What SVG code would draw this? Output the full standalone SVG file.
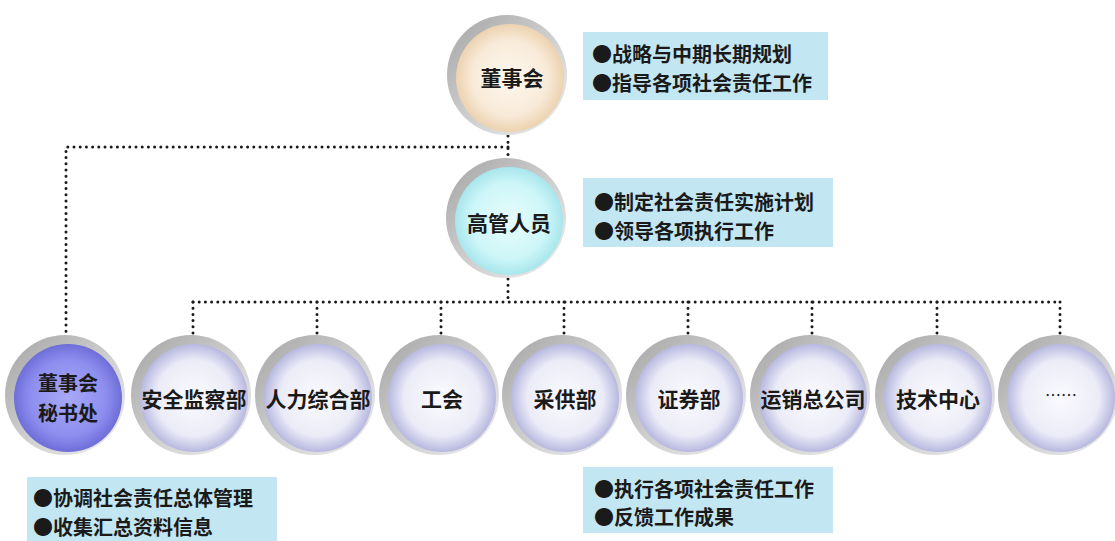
<svg xmlns="http://www.w3.org/2000/svg" width="1115" height="541" viewBox="0 0 1115 541">
<defs>
<linearGradient id="ring" x1="0" y1="0" x2="1" y2="1">
<stop offset="0" stop-color="#a4a4a4"/>
<stop offset="0.5" stop-color="#cdcdcd"/>
<stop offset="1" stop-color="#efefef"/>
</linearGradient>
<radialGradient id="gBoard" cx="0.5" cy="0.5" r="0.5">
<stop offset="0" stop-color="#fdf8f0"/>
<stop offset="0.7" stop-color="#f8ead8"/>
<stop offset="1" stop-color="#ecd2b0"/>
</radialGradient>
<radialGradient id="gExec" cx="0.5" cy="0.5" r="0.5">
<stop offset="0" stop-color="#e8fcfc"/>
<stop offset="0.7" stop-color="#cdf6f8"/>
<stop offset="1" stop-color="#a8e6ec"/>
</radialGradient>
<radialGradient id="gSec" cx="0.5" cy="0.5" r="0.5">
<stop offset="0" stop-color="#a8a8f6"/>
<stop offset="0.7" stop-color="#8e8ef0"/>
<stop offset="1" stop-color="#6e6ed8"/>
</radialGradient>
<radialGradient id="gDept" cx="0.5" cy="0.5" r="0.5">
<stop offset="0" stop-color="#fafafe"/>
<stop offset="0.7" stop-color="#ececf8"/>
<stop offset="1" stop-color="#b8b8e0"/>
</radialGradient>
</defs>
<style>
.ring{fill:url(#ring)}
.lbl{font-family:"Noto Sans CJK SC","Noto Sans",sans-serif;font-size:21px;font-weight:bold;fill:#1a1a1a;text-anchor:middle;dominant-baseline:central}
.box{fill:#c2e7f2}
.btxt{font-family:"Noto Sans CJK SC","Noto Sans",sans-serif;font-size:20px;font-weight:bold;fill:#1a1a1a}
.dot{fill:none;stroke:#1a1a1a;stroke-width:3;stroke-linecap:round;stroke-dasharray:0 6.2}
</style>
<g id="connectors">
<path class="dot" d="M508 136 V158"/>
<path class="dot" d="M508 147 H66 V335"/>
<path class="dot" d="M508 279 V302"/>
<path class="dot" d="M193 302 H1060"/>
<path class="dot" d="M193 302 V335"/>
<path class="dot" d="M317 302 V335"/>
<path class="dot" d="M441 302 V335"/>
<path class="dot" d="M564 302 V335"/>
<path class="dot" d="M688 302 V335"/>
<path class="dot" d="M812 302 V335"/>
<path class="dot" d="M937 302 V335"/>
<path class="dot" d="M1060 302 V335"/>
</g>
<g id="board">
<circle class="ring" cx="507" cy="75" r="60"/>
<circle cx="510" cy="78" r="54" fill="url(#gBoard)"/>
<text class="lbl" x="512" y="77">董事会</text>
</g>
<g id="board-note">
<rect class="box" x="583" y="32" width="245" height="68"/>
<text class="btxt" x="592" y="62">●战略与中期长期规划</text>
<text class="btxt" x="592" y="91">●指导各项社会责任工作</text>
</g>
<g id="exec">
<circle class="ring" cx="506" cy="218" r="60"/>
<circle cx="509" cy="221" r="54" fill="url(#gExec)"/>
<text class="lbl" x="509" y="222">高管人员</text>
</g>
<g id="exec-note">
<rect class="box" x="583" y="178" width="250" height="69"/>
<text class="btxt" x="594" y="210">●制定社会责任实施计划</text>
<text class="btxt" x="594" y="239">●领导各项执行工作</text>
</g>
<g id="secretary">
<circle class="ring" cx="65" cy="395" r="60"/>
<circle cx="68" cy="398" r="54" fill="url(#gSec)"/>
<text class="lbl" x="68" y="382" style="font-size:20px">董事会</text>
<text class="lbl" x="68" y="412" style="font-size:20px">秘书处</text>
</g>
<g id="dept-safety">
<circle class="ring" cx="191" cy="395" r="60"/>
<circle cx="194" cy="398" r="54" fill="url(#gDept)"/>
<text class="lbl" x="194" y="398">安全监察部</text>
</g>
<g id="dept-hr">
<circle class="ring" cx="315" cy="395" r="60"/>
<circle cx="318" cy="398" r="54" fill="url(#gDept)"/>
<text class="lbl" x="318" y="398">人力综合部</text>
</g>
<g id="dept-union">
<circle class="ring" cx="439" cy="395" r="60"/>
<circle cx="442" cy="398" r="54" fill="url(#gDept)"/>
<text class="lbl" x="442" y="398">工会</text>
</g>
<g id="dept-purchase">
<circle class="ring" cx="562" cy="395" r="60"/>
<circle cx="565" cy="398" r="54" fill="url(#gDept)"/>
<text class="lbl" x="565" y="398">采供部</text>
</g>
<g id="dept-securities">
<circle class="ring" cx="686" cy="395" r="60"/>
<circle cx="689" cy="398" r="54" fill="url(#gDept)"/>
<text class="lbl" x="689" y="398">证券部</text>
</g>
<g id="dept-sales">
<circle class="ring" cx="810" cy="395" r="60"/>
<circle cx="813" cy="398" r="54" fill="url(#gDept)"/>
<text class="lbl" x="813" y="398">运销总公司</text>
</g>
<g id="dept-tech">
<circle class="ring" cx="935" cy="395" r="60"/>
<circle cx="938" cy="398" r="54" fill="url(#gDept)"/>
<text class="lbl" x="938" y="398">技术中心</text>
</g>
<g id="dept-more">
<circle class="ring" cx="1058" cy="395" r="60"/>
<circle cx="1061" cy="398" r="54" fill="url(#gDept)"/>
<text class="lbl" x="1061" y="394" style="font-weight:normal;font-size:16px">……</text>
</g>
<g id="secretary-note">
<rect class="box" x="27" y="477" width="250" height="64"/>
<text class="btxt" x="33" y="506">●协调社会责任总体管理</text>
<text class="btxt" x="33" y="535">●收集汇总资料信息</text>
</g>
<g id="dept-note">
<rect class="box" x="583" y="467" width="250" height="66"/>
<text class="btxt" x="594" y="497">●执行各项社会责任工作</text>
<text class="btxt" x="594" y="525">●反馈工作成果</text>
</g>
</svg>
